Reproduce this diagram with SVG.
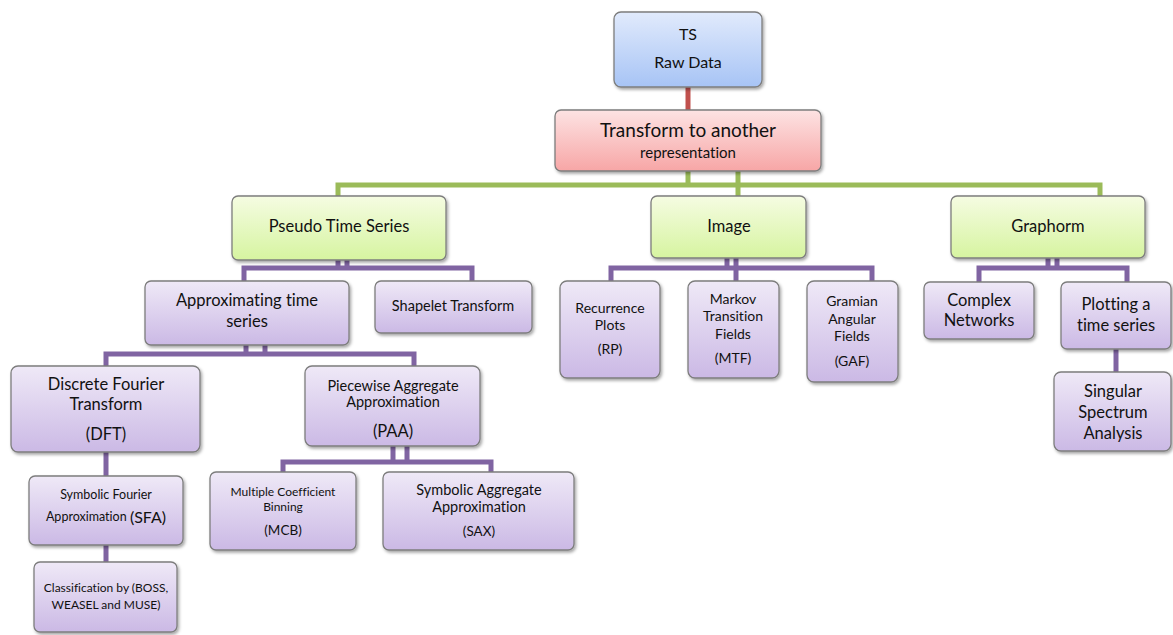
<svg xmlns="http://www.w3.org/2000/svg" width="1173" height="635" viewBox="0 0 1173 635">
<defs>
<linearGradient id="gBlue" x1="0" y1="0" x2="0" y2="1"><stop offset="0" stop-color="#e1eafc"/><stop offset="1" stop-color="#a7c4f5"/></linearGradient>
<linearGradient id="gRed" x1="0" y1="0" x2="0" y2="1"><stop offset="0" stop-color="#fde3e3"/><stop offset="1" stop-color="#f7a6a6"/></linearGradient>
<linearGradient id="gGreen" x1="0" y1="0" x2="0" y2="1"><stop offset="0" stop-color="#f5fce2"/><stop offset="1" stop-color="#d6f4a0"/></linearGradient>
<linearGradient id="gPurple" x1="0" y1="0" x2="0" y2="1"><stop offset="0" stop-color="#efe9f7"/><stop offset="1" stop-color="#cbb9e5"/></linearGradient>
<filter id="sh" x="-10%" y="-10%" width="125%" height="130%"><feDropShadow dx="1.5" dy="2" stdDeviation="1.5" flood-color="#000" flood-opacity="0.35"/></filter>
</defs>
<style>
rect{stroke:#7d7d7d;stroke-width:1.3;filter:url(#sh)}
.b{fill:url(#gBlue)} .r{fill:url(#gRed)} .g{fill:url(#gGreen)} .p{fill:url(#gPurple)}
text{font-family:Lato,"Liberation Sans",sans-serif;fill:#111;text-anchor:middle;dominant-baseline:central;font-variant-ligatures:none;transform:translate(0px,-1.5px)}
.cr{stroke:#c0504d;stroke-width:5;fill:none}
.cg{stroke:#9bbb59;stroke-width:5;fill:none}
.cp{stroke:#8064a2;stroke-width:5;fill:none}
</style>
<g id="connectors">
<path class="cr" d="M688 87V110"/>
<path class="cg" d="M688 171V185M738 171V196M338 196V185H1100V196"/>
<path class="cp" d="M338 260V268M347 260V268M244 281V268H472V281"/>
<path class="cp" d="M246 345V354M265 345V354M106 366V354H414V366"/>
<path class="cp" d="M106 452V476M106 545V562"/>
<path class="cp" d="M393 446V462M407 446V462M283 472V462H491V472"/>
<path class="cp" d="M727 258V268M736 258V281M611 281V268H872V281"/>
<path class="cp" d="M1048 258V268M1057 258V268M979 282V268H1127V282"/>
<path class="cp" d="M1116 349V372"/>
</g>
<g id="ts"><rect class="b" x="614" y="12" width="148" height="75" rx="7"/><text x="688" y="35" font-size="16">TS</text><text x="688" y="63" font-size="16">Raw Data</text></g>
<g id="transform"><rect class="r" x="555" y="110" width="266" height="61" rx="6"/><text x="688" y="131" font-size="19">Transform to another</text><text x="688" y="153" font-size="15">representation</text></g>
<g id="pseudo"><rect class="g" x="232" y="196" width="214" height="64" rx="6"/><text x="339" y="227" font-size="16.5">Pseudo Time Series</text></g>
<g id="image"><rect class="g" x="651" y="196" width="155" height="62" rx="6"/><text x="729" y="227" font-size="16.5">Image</text></g>
<g id="graphorm"><rect class="g" x="951" y="196" width="194" height="62" rx="6"/><text x="1048" y="227" font-size="16.5">Graphorm</text></g>
<g id="approx"><rect class="p" x="145" y="281" width="204" height="64" rx="6"/><text x="247" y="301" font-size="16.5">Approximating time</text><text x="247" y="322" font-size="16.5">series</text></g>
<g id="shapelet"><rect class="p" x="375" y="281" width="157" height="52" rx="6"/><text x="453" y="307" font-size="14.5">Shapelet Transform</text></g>
<g id="dft"><rect class="p" x="11" y="366" width="189" height="86" rx="7"/><text x="106" y="385" font-size="16.5">Discrete Fourier</text><text x="106" y="405" font-size="16.5">Transform</text><text x="106" y="435" font-size="16.5">(DFT)</text></g>
<g id="paa"><rect class="p" x="305" y="366" width="175" height="80" rx="7"/><text x="393" y="387" font-size="14.5">Piecewise Aggregate</text><text x="393" y="403" font-size="14.5">Approximation</text><text x="393" y="432" font-size="16.5">(PAA)</text></g>
<g id="sfa"><rect class="p" x="29" y="476" width="154" height="69" rx="6"/><text x="106" y="496" font-size="12.5">Symbolic Fourier</text><text x="106" y="517"><tspan font-size="12.5">Approximation </tspan><tspan font-size="16">(SFA)</tspan></text></g>
<g id="classif"><rect class="p" x="34" y="562" width="143" height="70" rx="6"/><text x="106" y="589" font-size="12">Classification by (BOSS,</text><text x="106" y="606" font-size="12">WEASEL and MUSE)</text></g>
<g id="mcb"><rect class="p" x="210" y="472" width="146" height="78" rx="6"/><text x="283" y="493" font-size="12">Multiple Coefficient</text><text x="283" y="508" font-size="12">Binning</text><text x="283" y="531" font-size="13.5">(MCB)</text></g>
<g id="sax"><rect class="p" x="383" y="472" width="191" height="78" rx="6"/><text x="479" y="491" font-size="14.5">Symbolic Aggregate</text><text x="479" y="508" font-size="14.5">Approximation</text><text x="479" y="532" font-size="13.5">(SAX)</text></g>
<g id="rp"><rect class="p" x="560" y="281" width="100" height="97" rx="7"/><text x="610" y="309" font-size="14">Recurrence</text><text x="610" y="326" font-size="14">Plots</text><text x="610" y="350" font-size="14">(RP)</text></g>
<g id="mtf"><rect class="p" x="688" y="281" width="91" height="97" rx="7"/><text x="733" y="300" font-size="14">Markov</text><text x="733" y="317" font-size="14">Transition</text><text x="733" y="335" font-size="14">Fields</text><text x="733" y="359" font-size="14">(MTF)</text></g>
<g id="gaf"><rect class="p" x="807" y="281" width="91" height="101" rx="7"/><text x="852" y="302" font-size="14">Gramian</text><text x="852" y="320" font-size="14">Angular</text><text x="852" y="337" font-size="14">Fields</text><text x="852" y="362" font-size="14">(GAF)</text></g>
<g id="complex"><rect class="p" x="924" y="282" width="110" height="57" rx="6"/><text x="979" y="301" font-size="16.5">Complex</text><text x="979" y="321" font-size="16.5">Networks</text></g>
<g id="plotting"><rect class="p" x="1061" y="282" width="110" height="67" rx="6"/><text x="1116" y="305" font-size="16.5">Plotting a</text><text x="1116" y="326" font-size="16.5">time series</text></g>
<g id="ssa"><rect class="p" x="1054" y="372" width="117" height="79" rx="7"/><text x="1113" y="392" font-size="16.5">Singular</text><text x="1113" y="413" font-size="16.5">Spectrum</text><text x="1113" y="434" font-size="16.5">Analysis</text></g>
</svg>
